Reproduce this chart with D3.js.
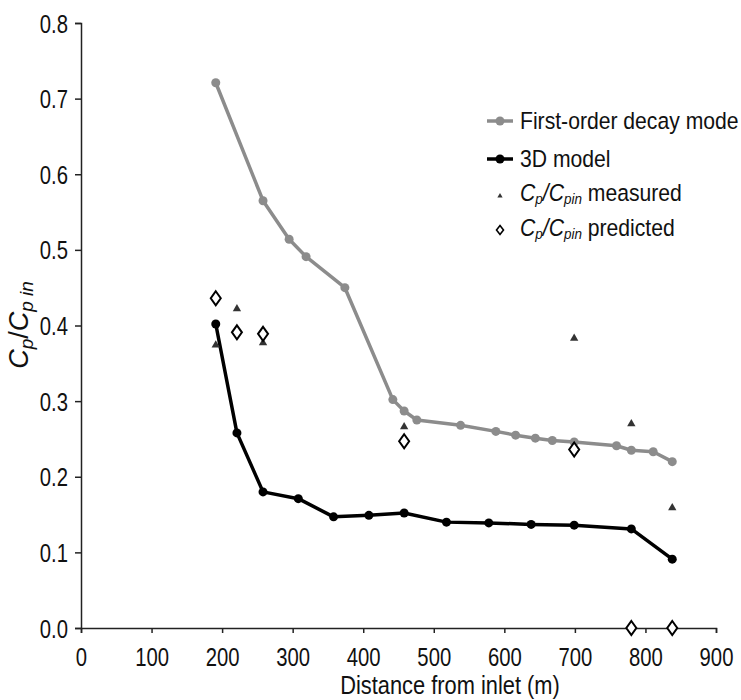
<!DOCTYPE html>
<html>
<head>
<meta charset="utf-8">
<script src="https://cdn.jsdelivr.net/npm/d3@7"></script>
<style>
  body { margin: 0; background: #fff; }
  text { font-family: "Liberation Sans", Arial, sans-serif; fill: #111; }
</style>
</head>
<body>
<div id="chart"></div>
<script>
// first-order decay model
var decayX = [191, 258, 295, 319, 374, 442, 458, 476, 538, 588, 616, 644, 668, 699, 759, 780, 811, 838];
var decayY = [0.721, 0.565, 0.514, 0.491, 0.450, 0.302, 0.287, 0.275, 0.268, 0.260, 0.255, 0.251, 0.248, 0.246, 0.241, 0.235, 0.233, 0.220];

// 3D model
var modelX = [191, 221, 258, 308, 358, 408, 458, 518, 578, 638, 699, 780, 838];
var modelY = [0.402, 0.258, 0.180, 0.171, 0.147, 0.149, 0.152, 0.140, 0.139, 0.137, 0.136, 0.131, 0.091];

// measured and predicted Cp/Cpin
var stationX = [191, 221, 258, 458, 699, 780, 838];
var measured = [0.374, 0.422, 0.377, 0.266, 0.383, 0.270, 0.159];
var predicted = [0.436, 0.391, 0.389, 0.247, 0.236, 0.0, 0.0];

var xTicks = [0, 100, 200, 300, 400, 500, 600, 700, 800, 900];
var yTicks = [0, 0.1, 0.2, 0.3, 0.4, 0.5, 0.6, 0.7, 0.8];

var W = 741, H = 700;
var margin = {left: 81, right: 25, top: 23, bottom: 72};
var tickSx = 0.78; // tick text is tall and narrow

var svg = d3.select("#chart").append("svg")
    .attr("width", W)
    .attr("height", H);

var x = d3.scaleLinear().domain([0, 900]).range([margin.left, W - margin.right]);
var y = d3.scaleLinear().domain([0, 0.8]).range([H - margin.bottom, margin.top]);

// axes
var xAxis = svg.append("g")
  .attr("transform", "translate(0," + y(0) + ")")
  .call(d3.axisBottom(x).tickValues(xTicks).tickSize(5).tickSizeOuter(5).tickFormat(d3.format("d")));

var yAxis = svg.append("g")
  .attr("transform", "translate(" + x(0) + ",0)")
  .call(d3.axisLeft(y).tickValues(yTicks).tickSize(6).tickSizeOuter(6).tickFormat(d3.format(".1f")));

[xAxis, yAxis].forEach(function(a) {
  a.select(".domain").attr("stroke", "#222").attr("stroke-width", 1.5);
  a.selectAll(".tick line").attr("stroke", "#222").attr("stroke-width", 1.5);
  a.selectAll(".tick text").style("font-size", "26px").attr("fill", "#111");
});

xAxis.selectAll(".tick text")
  .attr("y", 0).attr("dy", 0)
  .attr("transform", "translate(0,38) scale(" + tickSx + ",1)");

yAxis.selectAll(".tick text")
  .attr("x", 0).attr("dy", 0)
  .attr("transform", "translate(-13,9) scale(" + tickSx + ",1)");

// axis titles
svg.append("text")
  .attr("transform", "translate(450,694) scale(0.84,1)")
  .attr("text-anchor", "middle")
  .style("font-size", "26px")
  .text("Distance from inlet (m)");

var yt = svg.append("text")
  .attr("transform", "translate(28,325) rotate(-90)")
  .attr("text-anchor", "middle")
  .style("font-size", "27px");
yt.append("tspan").style("font-style", "italic").text("C");
yt.append("tspan").style("font-style", "italic").style("font-size", "19px").attr("dy", 5).text("p");
yt.append("tspan").attr("dy", -5).text("/");
yt.append("tspan").style("font-style", "italic").text("C");
yt.append("tspan").style("font-style", "italic").style("font-size", "19px").attr("dy", 5).text("p in");

// series
var gray = "#8c8c8c";

function series(xs, ys, color) {
  var pts = xs.map(function(d, i) { return [d, ys[i]]; });
  svg.append("path")
    .datum(pts)
    .attr("fill", "none")
    .attr("stroke", color)
    .attr("stroke-width", 3.5)
    .attr("stroke-linejoin", "round")
    .attr("d", d3.line().x(function(d) { return x(d[0]); }).y(function(d) { return y(d[1]); }));
  svg.append("g").selectAll("circle")
    .data(pts)
    .enter().append("circle")
    .attr("cx", function(d) { return x(d[0]); })
    .attr("cy", function(d) { return y(d[1]); })
    .attr("r", 4.5)
    .attr("fill", color);
}

series(decayX, decayY, gray);
series(modelX, modelY, "#000");

var tri = d3.symbol().type(d3.symbolTriangle).size(30);
var diamond = "M0,-7L5,0L0,7L-5,0Z";

svg.append("g").selectAll("path")
  .data(stationX)
  .enter().append("path")
  .attr("d", tri)
  .attr("fill", "#333")
  .attr("transform", function(d, i) { return "translate(" + x(d) + "," + y(measured[i]) + ")"; });

svg.append("g").selectAll("path")
  .data(stationX)
  .enter().append("path")
  .attr("d", diamond)
  .attr("fill", "#fff")
  .attr("stroke", "#000")
  .attr("stroke-width", 2)
  .attr("transform", function(d, i) { return "translate(" + x(d) + "," + y(predicted[i]) + ")"; });

// legend
var leg = svg.append("g");
var rows = [121, 159, 193, 228];
var legSx = 0.9;

[gray, "#000"].forEach(function(c, i) {
  leg.append("line")
    .attr("x1", 487).attr("x2", 513)
    .attr("y1", rows[i]).attr("y2", rows[i])
    .attr("stroke", c).attr("stroke-width", 3.5);
  leg.append("circle")
    .attr("cx", 500).attr("cy", rows[i]).attr("r", 4.5).attr("fill", c);
});

leg.append("path")
  .attr("d", d3.symbol().type(d3.symbolTriangle).size(12))
  .attr("fill", "#333")
  .attr("transform", "translate(500," + (rows[2] + 3) + ")");

leg.append("path")
  .attr("d", "M0,-4.5L3.5,0L0,4.5L-3.5,0Z")
  .attr("fill", "#fff").attr("stroke", "#000").attr("stroke-width", 1.6)
  .attr("transform", "translate(500," + (rows[3] + 2) + ")");

function legText(row) {
  return leg.append("text")
    .attr("transform", "translate(520," + (rows[row] + 8) + ") scale(" + legSx + ",1)")
    .style("font-size", "23.5px");
}

legText(0).text("First-order decay mode");
legText(1).text("3D model");

[2, 3].forEach(function(r) {
  var t = legText(r);
  t.append("tspan").style("font-style", "italic").text("C");
  t.append("tspan").style("font-style", "italic").style("font-size", "15px").attr("dy", 3).text("p");
  t.append("tspan").style("font-style", "italic").attr("dy", -3).text("/C");
  t.append("tspan").style("font-style", "italic").style("font-size", "15px").attr("dy", 3).text("pin");
  t.append("tspan").attr("dy", -3).text(r == 2 ? " measured" : " predicted");
});
</script>
</body>
</html>
